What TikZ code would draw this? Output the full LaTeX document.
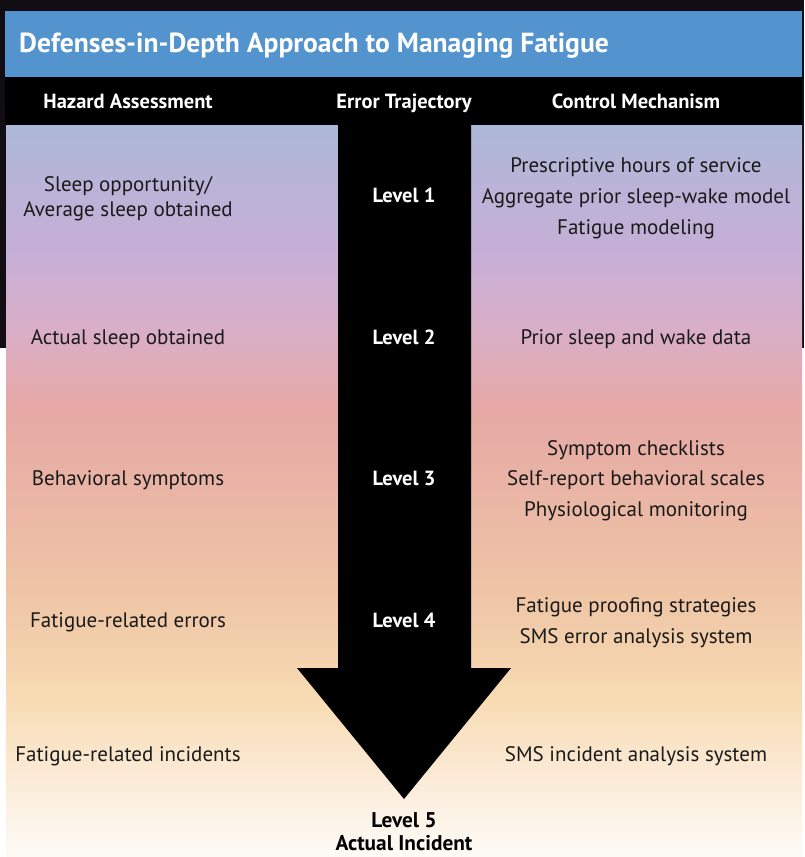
\documentclass[tikz,border=0pt]{standalone}
\usepackage{fontspec}
\setmainfont{PT Sans}
\definecolor{darkedge}{HTML}{110D12}
\definecolor{titleblue}{HTML}{5393CE}
\definecolor{txt}{HTML}{1A1A1A}
\definecolor{g0}{HTML}{FEFBF7}
\definecolor{g1}{HTML}{FBEBD8}
\definecolor{g2}{HTML}{F8DCB4}
\definecolor{g3}{HTML}{EFC6A6}
\definecolor{g4}{HTML}{E9B3A5}
\definecolor{g5}{HTML}{E6A9A5}
\definecolor{g6}{HTML}{D9AEC7}
\definecolor{g7}{HTML}{C6AFD7}
\definecolor{g8}{HTML}{ADB8D8}
\pgfdeclareverticalshading{panelshade}{100bp}{color(0bp)=(g0); color(25bp)=(g0); color(30.26bp)=(g1); color(35.7bp)=(g2); color(42.55bp)=(g3); color(50.75bp)=(g4); color(55.53bp)=(g5); color(61bp)=(g6); color(66.46bp)=(g7); color(75bp)=(g8); color(100bp)=(g8)}
\tikzset{
  fixh/.style={text height=0.72em, text depth=0.2em, inner sep=0pt, anchor=center},
  body/.style={fixh, font=\fontsize{21}{25}\selectfont, text=txt},
  head/.style={fixh, font=\fontsize{20.5}{24}\selectfont\bfseries, text=white},
  lvl/.style={fixh, font=\fontsize{20.5}{24}\selectfont\bfseries, text=white},
  lvlb/.style={fixh, font=\fontsize{21.3}{25}\selectfont\bfseries, text=black},
}
\begin{document}
\begin{tikzpicture}[x=1pt,y=-1pt]
\useasboundingbox (0,0) rectangle (804,857);
\fill[white] (0,0) rectangle (804,857);
% dark edges
\fill[darkedge] (0,0) rectangle (804,12);
\fill[darkedge] (0,0) rectangle (6,348);
\fill[darkedge] (801,0) rectangle (804,348);
% gradient panel
\shade[shading=panelshade] (6,125) rectangle (802,857);
% title bar
\fill[titleblue] (5,11) rectangle (802,77);
% header band
\fill[black] (5,77) rectangle (802,125);
% arrow
\fill[black] (338,124) -- (471,124) -- (471,668) -- (511,668) -- (404,799) -- (297,668) -- (338,668) -- cycle;
\begin{scope}[yshift=-5pt]
\node[font=\fontsize{27.6}{32}\selectfont\bfseries, text=white, fixh, anchor=west] (title) at (19,45) {Defenses-in-Depth Approach to Managing Fatigue};
\node[head] (h1) at (128,101) {Hazard Assessment};
\node[head] (h2) at (404,101) {Error Trajectory};
\node[head] (h3) at (636,101) {Control Mechanism};
% levels
\node[lvl] (l1) at (404,195) {Level 1};
\node[lvl] (l2) at (404,337) {Level 2};
\node[lvl] (l3) at (404,478) {Level 3};
\node[lvl] (l4) at (404,620) {Level 4};
\node[lvlb] (l5a) at (404,820) {Level 5};
\node[lvlb] (l5b) at (404,843) {Actual Incident};
% hazard column
\node[body] (a1) at (128,184) {Sleep opportunity/};
\node[body] (a1b) at (128,209) {Average sleep obtained};
\node[body] (a2) at (128,337) {Actual sleep obtained};
\node[body] (a3) at (128,478) {Behavioral symptoms};
\node[body] (a4) at (128,620) {Fatigue-related errors};
\node[body] (a5) at (128,754) {Fatigue-related incidents};
% control column
\node[body] (c1a) at (636,165) {Prescriptive hours of service};
\node[body] (c1b) at (636,196) {Aggregate prior sleep-wake model};
\node[body] (c1c) at (636,227) {Fatigue modeling};
\node[body] (c2) at (636,337) {Prior sleep and wake data};
\node[body] (c3a) at (636,448) {Symptom checklists};
\node[body] (c3b) at (636,478) {Self-report behavioral scales};
\node[body] (c3c) at (636,509) {Physiological monitoring};
\node[body] (c4a) at (636,605) {Fatigue proofing strategies};
\node[body] (c4b) at (636,636) {SMS error analysis system};
\node[body] (c5) at (636,754) {SMS incident analysis system};
\end{scope}
\end{tikzpicture}
\end{document}
